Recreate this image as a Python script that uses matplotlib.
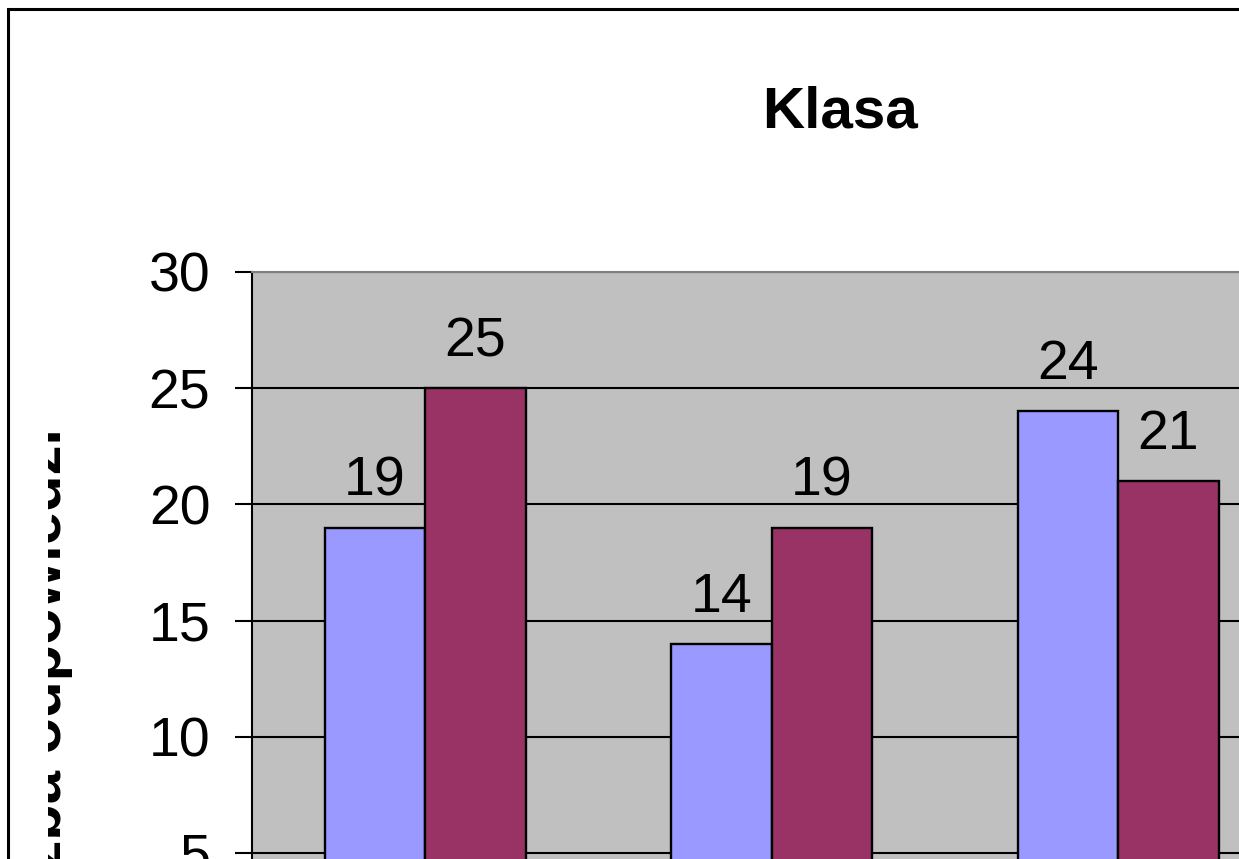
import matplotlib.pyplot as plt
import matplotlib.patches as patches
import numpy as np

# Data
series_a = [19, 14, 24]
series_b = [25, 19, 21]
y_ticks = [0, 5, 10, 15, 20, 25, 30]
title = "Klasa"
y_label = "Liczba odpowiedzi"

plt.rcParams['font.family'] = ['Liberation Sans', 'DejaVu Sans']

W, H = 1239, 859
fig = plt.figure(figsize=(W / 100, H / 100), dpi=100)
fig.patch.set_facecolor('white')

# plot area (extends past the right and bottom edge of the picture)
ax = fig.add_axes([252 / W, 1 - 969 / H, 1039.5 / W, 697 / H])
ax.set_facecolor('#C0C0C0')
ax.set_axisbelow(True)

x = np.arange(len(series_a))
bw = 0.29
bars_a = ax.bar(x - bw / 2, series_a, bw, color='#9999FF', edgecolor='black', linewidth=1.7)
bars_b = ax.bar(x + bw / 2, series_b, bw, color='#993366', edgecolor='black', linewidth=1.7)

# value labels above bars
for bars in (bars_a, bars_b):
    for b in bars:
        ax.annotate(str(int(b.get_height())), (b.get_x() + b.get_width() / 2, b.get_height()),
                    xytext=(0, 23), textcoords='offset points', ha='center', va='baseline',
                    fontsize=40)

ax.set_xlim(-0.5, len(series_a) - 0.5)
ax.set_ylim(0, 30)
ax.set_yticks(y_ticks)
ax.set_xticks([])
ax.yaxis.grid(True, color='black', linewidth=1.5)
ax.tick_params(axis='y', direction='out', length=12, width=1.5, pad=18, labelsize=40)

ax.spines['left'].set_color('black')
ax.spines['left'].set_linewidth(1.5)
for s in ('top', 'right', 'bottom'):
    ax.spines[s].set_color('#808080')
    ax.spines[s].set_linewidth(1.5)

fig.text(840 / W, 1 - 128 / H, title, ha='center', va='baseline', fontsize=42, fontweight='bold')

# y label, only its lower half is visible in the original
fig.text(61 / W, 1 - 428 / H, y_label, rotation=90, rotation_mode='anchor',
         ha='right', va='baseline', fontsize=43, fontweight='bold')
mask = patches.Rectangle((12 / W, 0), 36 / W, 1 - 380 / H, transform=fig.transFigure,
                         facecolor='white', edgecolor='none', zorder=5)
fig.add_artist(mask)

# chart border
border = patches.Rectangle((8 / W, -0.2), 1.2, 1.2 - 9 / H, transform=fig.transFigure,
                           fill=False, edgecolor='black', linewidth=2.2, clip_on=False, zorder=6)
fig.add_artist(border)

fig.savefig('out.png', dpi=100)
